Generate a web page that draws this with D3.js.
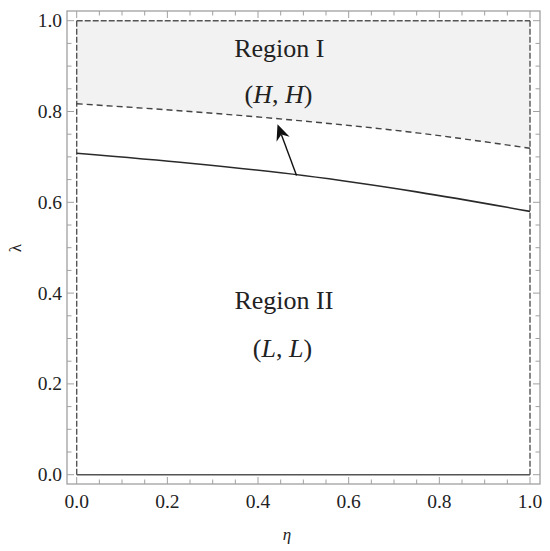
<!DOCTYPE html>
<html>
<head>
<meta charset="utf-8">
<script src="https://cdn.jsdelivr.net/npm/d3@7"></script>
<style>
  html, body { margin: 0; padding: 0; background: #fff; }
  svg { display: block; }
</style>
</head>
<body>
<svg id="chart" width="550" height="551"></svg>
<script>
// ---- data ----
const etaValues = [0, 0.25, 0.5, 0.75, 1.0];
const lowerCurve = [0.708, 0.686, 0.659, 0.623, 0.580];   // solid boundary
const upperCurve = [0.817, 0.800, 0.779, 0.753, 0.719];   // dashed boundary
const xTicks = [0, 0.2, 0.4, 0.6, 0.8, 1.0];
const yTicks = [0, 0.2, 0.4, 0.6, 0.8, 1.0];
const arrowFrom = [0.485, 0.659];
const arrowTo = [0.443, 0.772];
const regionLabels = [
  { parts: [["Region I", false]], eta: 0.447, lambda: 0.921 },
  { parts: [["(", false], ["H", true], [", ", false], ["H", true], [")", false]], eta: 0.445, lambda: 0.818 },
  { parts: [["Region II", false]], eta: 0.457, lambda: 0.365 },
  { parts: [["(", false], ["L", true], [", ", false], ["L", true], [")", false]], eta: 0.454, lambda: 0.259 }
];

// ---- layout ----
const FONT = "'Liberation Serif', 'DejaVu Serif', serif";
const svg = d3.select("#chart");
const frame = { x0: 67, y0: 11, x1: 540, y1: 484 };
const x = d3.scaleLinear().domain([0, 1]).range([76.7, 530]);
const y = d3.scaleLinear().domain([0, 1]).range([474.7, 20.7]);

const upperPts = etaValues.map((e, i) => [e, upperCurve[i]]);
const lowerPts = etaValues.map((e, i) => [e, lowerCurve[i]]);

// shaded region I
const area = d3.area()
  .x(d => x(d[0])).y0(y(1)).y1(d => y(d[1]))
  .curve(d3.curveMonotoneX);
svg.append("path").datum(upperPts).attr("d", area).attr("fill", "#f2f2f2");

// boundaries of the domain
svg.append("line").attr("x1", x(0)).attr("x2", x(1)).attr("y1", y(0)).attr("y2", y(0))
  .attr("stroke", "#555").attr("stroke-width", 1.4);
svg.append("line").attr("x1", x(0)).attr("x2", x(1)).attr("y1", y(1)).attr("y2", y(1))
  .attr("stroke", "#555").attr("stroke-width", 1.4).attr("stroke-dasharray", "6,2");
[0, 1].forEach(v => {
  svg.append("line").attr("x1", x(v)).attr("x2", x(v)).attr("y1", y(0)).attr("y2", y(1))
    .attr("stroke", "#555").attr("stroke-width", 1.4).attr("stroke-dasharray", "6,2");
});

// curves
const line = d3.line().x(d => x(d[0])).y(d => y(d[1])).curve(d3.curveMonotoneX);
svg.append("path").datum(upperPts).attr("d", line)
  .attr("fill", "none").attr("stroke", "#444").attr("stroke-width", 1.4)
  .attr("stroke-dasharray", "6,4");
svg.append("path").datum(lowerPts).attr("d", line)
  .attr("fill", "none").attr("stroke", "#2a2a2a").attr("stroke-width", 1.6);

// arrow
const ax0 = x(arrowFrom[0]), ay0 = y(arrowFrom[1]);
const ax1 = x(arrowTo[0]), ay1 = y(arrowTo[1]);
const ang = Math.atan2(ay1 - ay0, ax1 - ax0);
const headLen = 16, headHalf = 7, notch = 11;
const ux = Math.cos(ang), uy = Math.sin(ang);
const px = -uy, py = ux;
svg.append("line")
  .attr("x1", ax0).attr("y1", ay0)
  .attr("x2", ax1 - ux * notch).attr("y2", ay1 - uy * notch)
  .attr("stroke", "#111").attr("stroke-width", 1.4);
const head = [
  [ax1, ay1],
  [ax1 - ux * headLen + px * headHalf, ay1 - uy * headLen + py * headHalf],
  [ax1 - ux * notch, ay1 - uy * notch],
  [ax1 - ux * headLen - px * headHalf, ay1 - uy * headLen - py * headHalf]
];
svg.append("path").attr("d", "M" + head.map(p => p.join(",")).join("L") + "Z")
  .attr("fill", "#111");

// frame
svg.append("rect").attr("x", frame.x0).attr("y", frame.y0)
  .attr("width", frame.x1 - frame.x0).attr("height", frame.y1 - frame.y0)
  .attr("fill", "none").attr("stroke", "#a0a0a0").attr("stroke-width", 1.3);

// ticks (inward from frame)
const minorTicks = d3.range(0, 1.0001, 0.05);
const tickG = svg.append("g").attr("stroke", "#a0a0a0").attr("stroke-width", 1);
minorTicks.forEach(v => {
  const major = Math.abs(Math.round(v * 5) - v * 5) < 1e-6;
  const len = major ? 7 : 4.5;
  tickG.append("line").attr("x1", x(v)).attr("x2", x(v)).attr("y1", frame.y1).attr("y2", frame.y1 - len);
  tickG.append("line").attr("x1", x(v)).attr("x2", x(v)).attr("y1", frame.y0).attr("y2", frame.y0 + len);
  tickG.append("line").attr("y1", y(v)).attr("y2", y(v)).attr("x1", frame.x0).attr("x2", frame.x0 + len);
  tickG.append("line").attr("y1", y(v)).attr("y2", y(v)).attr("x1", frame.x1).attr("x2", frame.x1 - len);
});

// tick labels
const fmt = d3.format(".1f");
svg.append("g").selectAll("text").data(xTicks).join("text")
  .attr("x", d => x(d)).attr("y", 507.5)
  .attr("text-anchor", "middle").attr("font-size", 19.5)
  .attr("font-family", FONT).attr("fill", "#222")
  .text(d => fmt(d));
svg.append("g").selectAll("text").data(yTicks).join("text")
  .attr("x", 62).attr("y", d => y(d) + 6.5)
  .attr("text-anchor", "end").attr("font-size", 19.5)
  .attr("font-family", FONT).attr("fill", "#222")
  .text(d => fmt(d));

// axis labels
svg.append("text").attr("x", 287).attr("y", 540).attr("text-anchor", "middle")
  .attr("font-family", FONT).attr("fill", "#222")
  .attr("font-size", 17).attr("font-style", "italic").text("η");
svg.append("text").attr("transform", "translate(21,248) rotate(-90)")
  .attr("font-family", FONT).attr("fill", "#222")
  .attr("text-anchor", "middle").attr("font-size", 17).text("λ");

// region labels
regionLabels.forEach(lab => {
  const t = svg.append("text").attr("x", x(lab.eta)).attr("y", y(lab.lambda))
    .attr("font-family", FONT).attr("fill", "#222")
    .attr("text-anchor", "middle").attr("font-size", 26);
  lab.parts.forEach(([s, it]) => {
    t.append("tspan").attr("font-style", it ? "italic" : "normal").text(s);
  });
});
</script>
</body>
</html>
